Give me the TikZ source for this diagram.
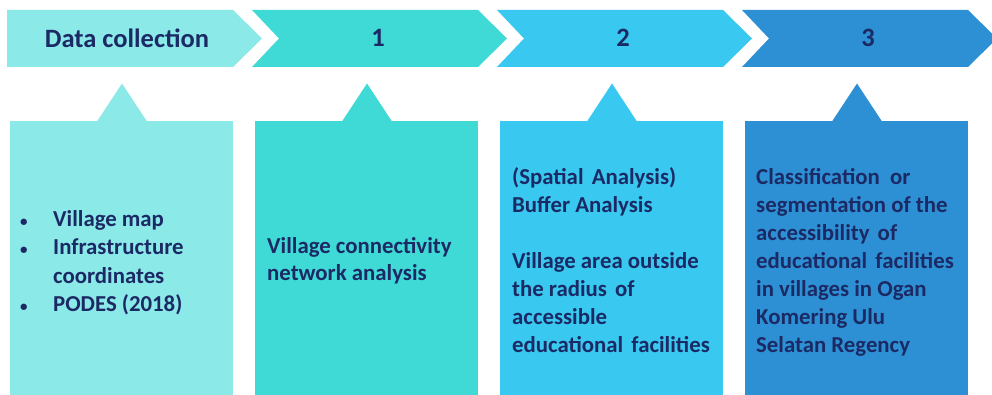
\documentclass[tikz,border=0pt]{standalone}
\usepackage{fontspec}
\setmainfont{Carlito}
\definecolor{navy}{HTML}{1B2A64}
\definecolor{stepA}{HTML}{8BE9E8}
\definecolor{stepB}{HTML}{40DAD6}
\definecolor{stepC}{HTML}{39C8F0}
\definecolor{stepD}{HTML}{2E90D4}
\newcommand{\dotmark}{{\fontsize{15}{15}\selectfont\textbullet}}
\newcommand{\wsp}{\ \hspace{3pt}}
\begin{document}
\begin{tikzpicture}[x=1pt,y=-1pt,
	label text/.style={text=navy, font=\bfseries\fontsize{26.5}{30}\selectfont},
	box text/.style={anchor=base west, inner sep=0pt, text=navy, font=\bfseries\fontsize{22.8}{28}\selectfont}]
	\def\DX{245}
	%页面范围
	\useasboundingbox (0,0) rectangle (992,395);
	%绘制顶部的箭头条
	\foreach \i/\col/\n in {0/stepA/0,1/stepB/27,2/stepC/27,3/stepD/27}
		\fill [\col] ({7+\DX*\i},10) -- ++(226,0) -- ++(29,28.5) -- ++(-29,28.5)
			-- ({7+\DX*\i},67) -- ({7+\DX*\i+\n},38.5) -- cycle;
	%绘制下方的方框及其上方的三角形
	\foreach \i/\col in {0/stepA,1/stepB,2/stepC,3/stepD}
	{
		\fill [\col] ({10+\DX*\i},121) rectangle ++(223,280);
		\fill [\col] ({97+\DX*\i},121.5) -- ++(25,-38) -- ++(25,38) -- cycle;
	}
	%箭头上的标题
	\node [label text] (collect) at (127,38) {Data collection};
	\node [label text] (step1) at (378,38) {1};
	\node [label text] (step2) at (623,38) {2};
	\node [label text] (step3) at (868,38) {3};
	%方框中的文字
	\node [box text] (collect-list) at (20,227) {\begin{tabular}[t]{@{}p{33pt}@{}l@{}}
		\dotmark & Village map\\
		\dotmark & Infrastructure\\
		 & coordinates\\
		\dotmark & PODES (2018)
	\end{tabular}};
	\node [box text] (step1-text) at (267,253) {\parbox[t]{205pt}{Village connectivity\\network analysis}};
	\node [box text] (step2-text) at (512,185) {\parbox[t]{205pt}{(Spatial\wsp Analysis)\\Buffer Analysis\\[28pt]
		Village area outside\\the radius\wsp of\\accessible\\educational\wsp facilities}};
	\node [box text] (step3-text) at (756,185) {\parbox[t]{205pt}{Classification\ \ or\\segmentation of the\\accessibility\wsp of\\
		educational\wsp facilities\\in villages in Ogan\\Komering Ulu\\Selatan Regency}};
\end{tikzpicture}
\end{document}
